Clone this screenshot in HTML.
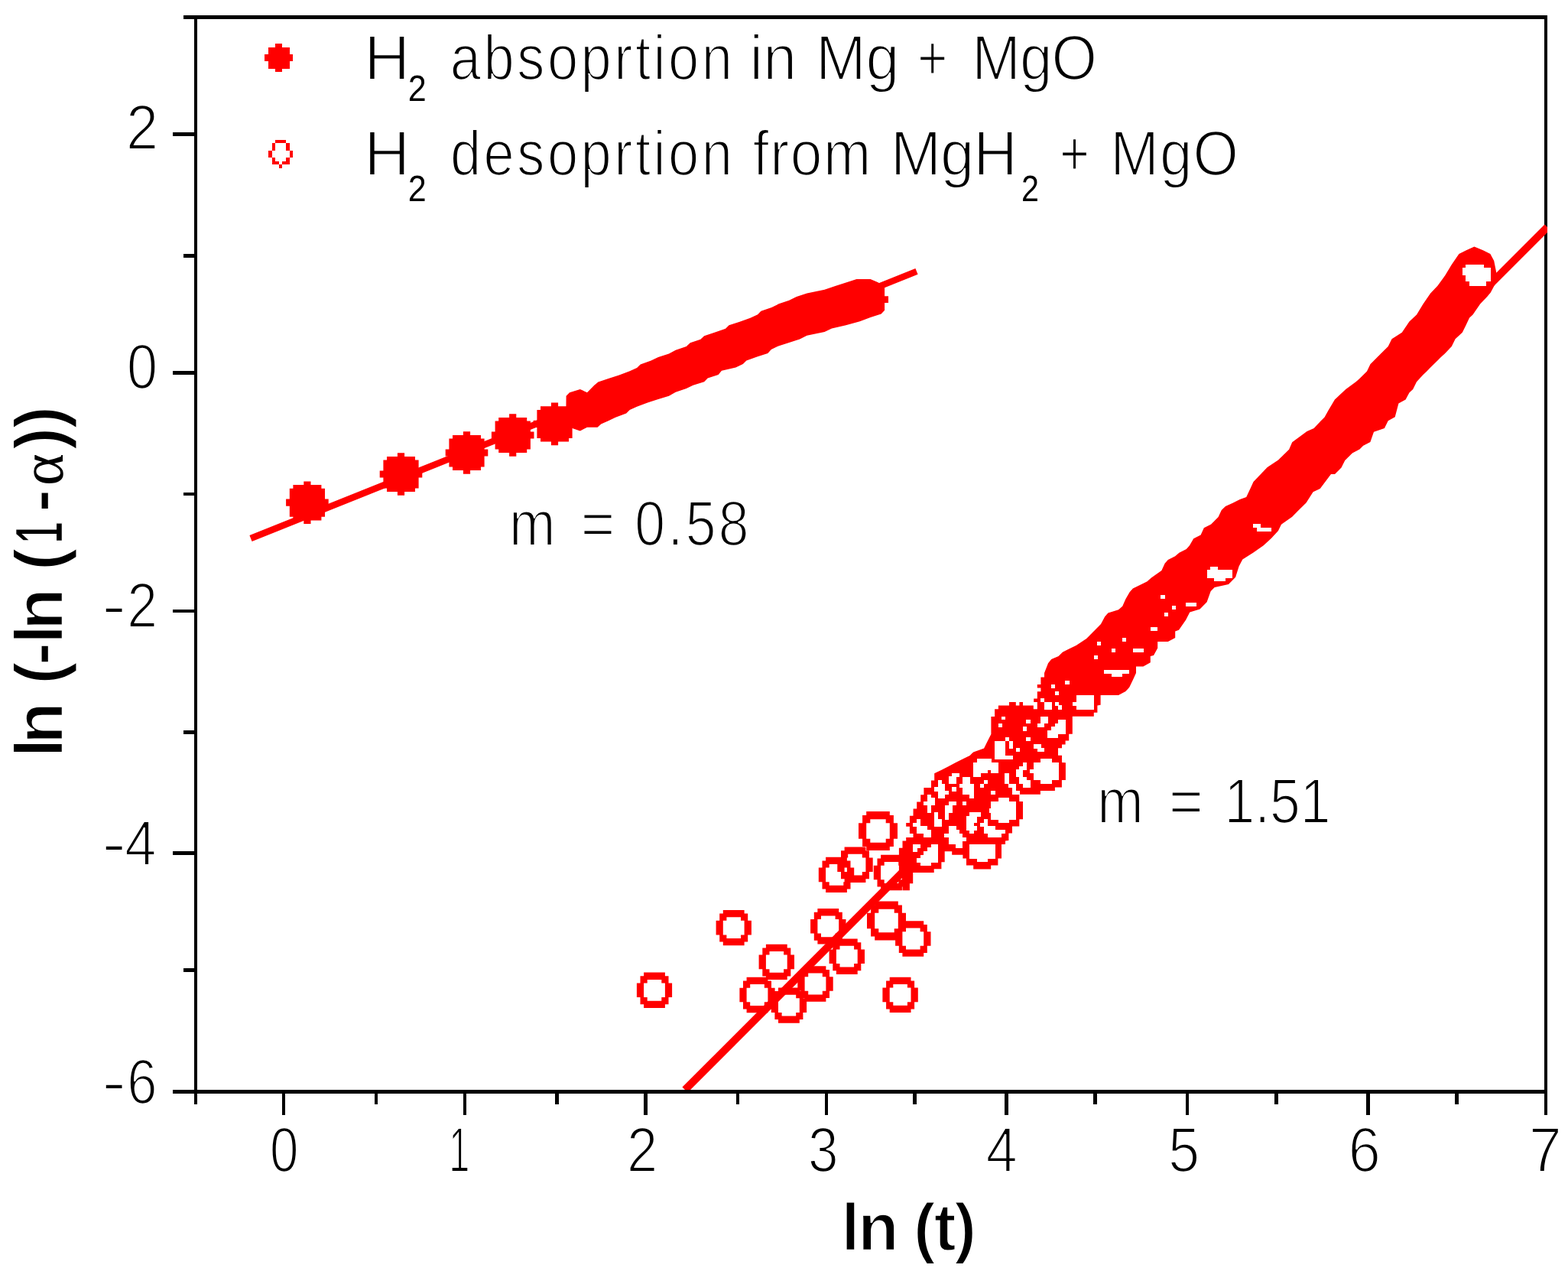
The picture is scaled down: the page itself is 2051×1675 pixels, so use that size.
<!DOCTYPE html>
<html><head><meta charset="utf-8"><title>ln(-ln(1-alpha)) vs ln(t)</title>
<style>html,body{margin:0;padding:0;background:#fff;overflow:hidden}svg{display:block}</style>
</head><body>
<svg width="2051" height="1675" viewBox="0 0 2051 1675" shape-rendering="crispEdges">
<rect width="2051" height="1675" fill="#fff"/>
<g fill="#000"><rect x="240.0" y="20.0" width="1784.0" height="4.5"/><rect x="2019.5" y="20.0" width="4.5" height="1410.0"/><rect x="253.5" y="20.0" width="4.5" height="1424.0"/><rect x="226.0" y="1425.0" width="1798.0" height="5.0"/><rect x="226.0" y="173.4" width="28.0" height="4.5"/><rect x="226.0" y="485.1" width="28.0" height="4.5"/><rect x="226.0" y="796.5" width="28.0" height="4.5"/><rect x="226.0" y="1113.2" width="28.0" height="4.5"/><rect x="240.0" y="332.1" width="14.0" height="4.5"/><rect x="240.0" y="643.8" width="14.0" height="4.5"/><rect x="240.0" y="955.1" width="14.0" height="4.5"/><rect x="240.0" y="1266.2" width="14.0" height="4.5"/><rect x="368.9" y="1430.0" width="4.5" height="27.5"/><rect x="605.9" y="1430.0" width="4.5" height="27.5"/><rect x="842.4" y="1430.0" width="4.5" height="27.5"/><rect x="1078.5" y="1430.0" width="4.5" height="27.5"/><rect x="1314.2" y="1430.0" width="4.5" height="27.5"/><rect x="1550.8" y="1430.0" width="4.5" height="27.5"/><rect x="1787.2" y="1430.0" width="4.5" height="27.5"/><rect x="2019.5" y="1430.0" width="4.5" height="27.5"/><rect x="489.6" y="1430.0" width="4.5" height="14.0"/><rect x="726.1" y="1430.0" width="4.5" height="14.0"/><rect x="962.6" y="1430.0" width="4.5" height="14.0"/><rect x="1194.2" y="1430.0" width="4.5" height="14.0"/><rect x="1430.2" y="1430.0" width="4.5" height="14.0"/><rect x="1667.2" y="1430.0" width="4.5" height="14.0"/><rect x="1903.2" y="1430.0" width="4.5" height="14.0"/></g>
<defs><clipPath id="pa"><rect x="0" y="0" width="2024" height="1425"/></clipPath></defs>
<g shape-rendering="auto" clip-path="url(#pa)"><line x1="328" y1="704" x2="1199" y2="354.9" stroke="#ff0000" stroke-width="8.5"/><path d="M397.3 629.4 L406.5 629.4 L406.5 634.1 L420.4 634.1 L420.4 638.7 L425.0 638.7 L425.0 652.6 L429.7 652.6 L429.7 661.8 L425.0 661.8 L425.0 675.7 L420.4 675.7 L420.4 680.4 L406.5 680.4 L406.5 685.0 L397.3 685.0 L397.3 680.4 L383.4 680.4 L383.4 675.7 L378.8 675.7 L378.8 661.8 L374.1 661.8 L374.1 652.6 L378.8 652.6 L378.8 638.7 L383.4 638.7 L383.4 634.1 L397.3 634.1ZM519.9 592.2 L529.1 592.2 L529.1 596.9 L543.0 596.9 L543.0 601.5 L547.6 601.5 L547.6 615.4 L552.3 615.4 L552.3 624.6 L547.6 624.6 L547.6 638.5 L543.0 638.5 L543.0 643.1 L529.1 643.1 L529.1 647.8 L519.9 647.8 L519.9 643.1 L506.0 643.1 L506.0 638.5 L501.4 638.5 L501.4 624.6 L496.7 624.6 L496.7 615.4 L501.4 615.4 L501.4 601.5 L506.0 601.5 L506.0 596.9 L519.9 596.9ZM605.9 564.2 L615.1 564.2 L615.1 568.9 L629.0 568.9 L629.0 573.5 L633.6 573.5 L633.6 587.4 L638.3 587.4 L638.3 596.6 L633.6 596.6 L633.6 610.5 L629.0 610.5 L629.0 615.1 L615.1 615.1 L615.1 619.8 L605.9 619.8 L605.9 615.1 L592.0 615.1 L592.0 610.5 L587.4 610.5 L587.4 596.6 L582.7 596.6 L582.7 587.4 L587.4 587.4 L587.4 573.5 L592.0 573.5 L592.0 568.9 L605.9 568.9ZM666.1 541.2 L675.3 541.2 L675.3 545.9 L689.2 545.9 L689.2 550.5 L693.9 550.5 L693.9 564.4 L698.5 564.4 L698.5 573.6 L693.9 573.6 L693.9 587.5 L689.2 587.5 L689.2 592.1 L675.3 592.1 L675.3 596.8 L666.1 596.8 L666.1 592.1 L652.2 592.1 L652.2 587.5 L647.6 587.5 L647.6 573.6 L642.9 573.6 L642.9 564.4 L647.6 564.4 L647.6 550.5 L652.2 550.5 L652.2 545.9 L666.1 545.9ZM720.9 526.6 L730.1 526.6 L730.1 531.2 L744.0 531.2 L744.0 535.9 L748.6 535.9 L748.6 549.8 L753.3 549.8 L753.3 559.0 L748.6 559.0 L748.6 572.9 L744.0 572.9 L744.0 577.5 L730.1 577.5 L730.1 582.2 L720.9 582.2 L720.9 577.5 L707.0 577.5 L707.0 572.9 L702.4 572.9 L702.4 559.0 L697.7 559.0 L697.7 549.8 L702.4 549.8 L702.4 535.9 L707.0 535.9 L707.0 531.2 L720.9 531.2Z" fill="#ff0000"/><polygon points="740.6,517.8 745.0,513.2 758.8,508.9 768.0,513.2 777.3,503.8 782.4,499.5 795.8,495.0 809.8,490.4 823.7,485.3 833.1,481.0 837.7,476.4 851.6,471.6 861.0,467.0 875.0,462.5 883.8,457.7 897.8,453.1 902.8,448.3 916.3,443.7 921.1,439.2 935.3,434.6 949.0,429.8 953.5,425.2 967.5,420.7 981.4,415.8 991.1,411.3 995.4,406.7 1009.3,401.9 1018.7,397.3 1032.2,392.8 1041.8,388.0 1055.5,383.4 1078.5,378.8 1092.5,374.0 1106.5,369.4 1120.4,364.9 1138.6,364.9 1148.0,369.0 1157.1,374.0 1157.1,387.2 1162.0,387.2 1162.0,396.0 1157.1,396.0 1157.1,405.7 1152.6,410.5 1138.6,415.1 1124.7,420.2 1106.5,425.2 1088.0,429.5 1078.5,434.1 1055.5,438.7 1046.1,443.5 1032.2,448.0 1018.2,452.4 1008.8,456.9 1004.3,462.0 990.3,466.6 976.4,471.4 971.8,475.9 962.4,480.5 943.9,484.8 939.6,489.9 925.7,494.4 921.1,499.3 906.6,503.8 897.8,508.1 883.8,512.7 875.0,517.8 861.0,522.0 847.1,526.6 833.1,531.7 823.7,536.0 819.2,540.6 805.2,545.7 795.8,550.2 786.2,554.5 781.6,558.8 768.0,558.8 758.8,563.4 745.0,558.8 740.0,573.5" fill="#ff0000"/><line x1="896" y1="1425" x2="2024" y2="297" stroke="#ff0000" stroke-width="10"/><path d="M842.1 1271.6 L869.9 1271.6 L869.9 1276.3 L874.5 1276.3 L874.5 1285.5 L879.1 1285.5 L879.1 1304.1 L874.5 1304.1 L874.5 1313.3 L869.9 1313.3 L869.9 1318.0 L842.1 1318.0 L842.1 1313.3 L837.5 1313.3 L837.5 1304.1 L832.9 1304.1 L832.9 1285.5 L837.5 1285.5 L837.5 1276.3 L842.1 1276.3ZM846.7 1285.5 L842.1 1285.5 L842.1 1304.1 L846.7 1304.1 L846.7 1308.7 L865.3 1308.7 L865.3 1304.1 L869.9 1304.1 L869.9 1285.5 L865.3 1285.5 L865.3 1280.9 L846.7 1280.9ZM945.8 1189.9 L973.6 1189.9 L973.6 1194.6 L978.2 1194.6 L978.2 1203.8 L982.9 1203.8 L982.9 1222.4 L978.2 1222.4 L978.2 1231.6 L973.6 1231.6 L973.6 1236.2 L945.8 1236.2 L945.8 1231.6 L941.2 1231.6 L941.2 1222.4 L936.6 1222.4 L936.6 1203.8 L941.2 1203.8 L941.2 1194.6 L945.8 1194.6ZM950.4 1203.8 L945.8 1203.8 L945.8 1222.4 L950.4 1222.4 L950.4 1227.0 L969.0 1227.0 L969.0 1222.4 L973.6 1222.4 L973.6 1203.8 L969.0 1203.8 L969.0 1199.2 L950.4 1199.2ZM1001.9 1234.8 L1029.7 1234.8 L1029.7 1239.4 L1034.3 1239.4 L1034.3 1248.6 L1039.0 1248.6 L1039.0 1267.2 L1034.3 1267.2 L1034.3 1276.4 L1029.7 1276.4 L1029.7 1281.1 L1001.9 1281.1 L1001.9 1276.4 L997.3 1276.4 L997.3 1267.2 L992.6 1267.2 L992.6 1248.6 L997.3 1248.6 L997.3 1239.4 L1001.9 1239.4ZM1006.5 1248.6 L1001.9 1248.6 L1001.9 1267.2 L1006.5 1267.2 L1006.5 1271.8 L1025.1 1271.8 L1025.1 1267.2 L1029.7 1267.2 L1029.7 1248.6 L1025.1 1248.6 L1025.1 1244.0 L1006.5 1244.0ZM976.6 1277.8 L1004.4 1277.8 L1004.4 1282.5 L1009.0 1282.5 L1009.0 1291.7 L1013.6 1291.7 L1013.6 1310.3 L1009.0 1310.3 L1009.0 1319.5 L1004.4 1319.5 L1004.4 1324.2 L976.6 1324.2 L976.6 1319.5 L972.0 1319.5 L972.0 1310.3 L967.4 1310.3 L967.4 1291.7 L972.0 1291.7 L972.0 1282.5 L976.6 1282.5ZM981.2 1291.7 L976.6 1291.7 L976.6 1310.3 L981.2 1310.3 L981.2 1314.9 L999.8 1314.9 L999.8 1310.3 L1004.4 1310.3 L1004.4 1291.7 L999.8 1291.7 L999.8 1287.1 L981.2 1287.1ZM1018.0 1291.4 L1045.8 1291.4 L1045.8 1296.1 L1050.4 1296.1 L1050.4 1305.3 L1055.1 1305.3 L1055.1 1323.9 L1050.4 1323.9 L1050.4 1333.1 L1045.8 1333.1 L1045.8 1337.8 L1018.0 1337.8 L1018.0 1333.1 L1013.4 1333.1 L1013.4 1323.9 L1008.8 1323.9 L1008.8 1305.3 L1013.4 1305.3 L1013.4 1296.1 L1018.0 1296.1ZM1022.6 1305.3 L1018.0 1305.3 L1018.0 1323.9 L1022.6 1323.9 L1022.6 1328.5 L1041.2 1328.5 L1041.2 1323.9 L1045.8 1323.9 L1045.8 1305.3 L1041.2 1305.3 L1041.2 1300.7 L1022.6 1300.7ZM1052.6 1263.3 L1080.4 1263.3 L1080.4 1268.0 L1085.0 1268.0 L1085.0 1277.2 L1089.7 1277.2 L1089.7 1295.8 L1085.0 1295.8 L1085.0 1305.0 L1080.4 1305.0 L1080.4 1309.7 L1052.6 1309.7 L1052.6 1305.0 L1048.0 1305.0 L1048.0 1295.8 L1043.3 1295.8 L1043.3 1277.2 L1048.0 1277.2 L1048.0 1268.0 L1052.6 1268.0ZM1057.2 1277.2 L1052.6 1277.2 L1052.6 1295.8 L1057.2 1295.8 L1057.2 1300.4 L1075.8 1300.4 L1075.8 1295.8 L1080.4 1295.8 L1080.4 1277.2 L1075.8 1277.2 L1075.8 1272.6 L1057.2 1272.6ZM1069.4 1188.1 L1097.2 1188.1 L1097.2 1192.8 L1101.8 1192.8 L1101.8 1202.0 L1106.5 1202.0 L1106.5 1220.6 L1101.8 1220.6 L1101.8 1229.8 L1097.2 1229.8 L1097.2 1234.5 L1069.4 1234.5 L1069.4 1229.8 L1064.8 1229.8 L1064.8 1220.6 L1060.1 1220.6 L1060.1 1202.0 L1064.8 1202.0 L1064.8 1192.8 L1069.4 1192.8ZM1074.0 1202.0 L1069.4 1202.0 L1069.4 1220.6 L1074.0 1220.6 L1074.0 1225.2 L1092.6 1225.2 L1092.6 1220.6 L1097.2 1220.6 L1097.2 1202.0 L1092.6 1202.0 L1092.6 1197.4 L1074.0 1197.4ZM1093.9 1227.5 L1121.7 1227.5 L1121.7 1232.2 L1126.3 1232.2 L1126.3 1241.4 L1131.0 1241.4 L1131.0 1260.0 L1126.3 1260.0 L1126.3 1269.2 L1121.7 1269.2 L1121.7 1273.9 L1093.9 1273.9 L1093.9 1269.2 L1089.3 1269.2 L1089.3 1260.0 L1084.6 1260.0 L1084.6 1241.4 L1089.3 1241.4 L1089.3 1232.2 L1093.9 1232.2ZM1098.5 1241.4 L1093.9 1241.4 L1093.9 1260.0 L1098.5 1260.0 L1098.5 1264.6 L1117.1 1264.6 L1117.1 1260.0 L1121.7 1260.0 L1121.7 1241.4 L1117.1 1241.4 L1117.1 1236.8 L1098.5 1236.8ZM1180.4 1204.3 L1208.2 1204.3 L1208.2 1209.0 L1212.8 1209.0 L1212.8 1218.2 L1217.5 1218.2 L1217.5 1236.8 L1212.8 1236.8 L1212.8 1246.0 L1208.2 1246.0 L1208.2 1250.7 L1180.4 1250.7 L1180.4 1246.0 L1175.8 1246.0 L1175.8 1236.8 L1171.1 1236.8 L1171.1 1218.2 L1175.8 1218.2 L1175.8 1209.0 L1180.4 1209.0ZM1185.0 1218.2 L1180.4 1218.2 L1180.4 1236.8 L1185.0 1236.8 L1185.0 1241.4 L1203.6 1241.4 L1203.6 1236.8 L1208.2 1236.8 L1208.2 1218.2 L1203.6 1218.2 L1203.6 1213.6 L1185.0 1213.6ZM1163.7 1277.8 L1191.5 1277.8 L1191.5 1282.4 L1196.1 1282.4 L1196.1 1291.6 L1200.8 1291.6 L1200.8 1310.2 L1196.1 1310.2 L1196.1 1319.4 L1191.5 1319.4 L1191.5 1324.1 L1163.7 1324.1 L1163.7 1319.4 L1159.1 1319.4 L1159.1 1310.2 L1154.4 1310.2 L1154.4 1291.6 L1159.1 1291.6 L1159.1 1282.4 L1163.7 1282.4ZM1168.3 1291.6 L1163.7 1291.6 L1163.7 1310.2 L1168.3 1310.2 L1168.3 1314.8 L1186.9 1314.8 L1186.9 1310.2 L1191.5 1310.2 L1191.5 1291.6 L1186.9 1291.6 L1186.9 1287.0 L1168.3 1287.0ZM1080.1 1120.8 L1107.9 1120.8 L1107.9 1125.4 L1112.5 1125.4 L1112.5 1134.6 L1117.2 1134.6 L1117.2 1153.2 L1112.5 1153.2 L1112.5 1162.4 L1107.9 1162.4 L1107.9 1167.1 L1080.1 1167.1 L1080.1 1162.4 L1075.5 1162.4 L1075.5 1153.2 L1070.8 1153.2 L1070.8 1134.6 L1075.5 1134.6 L1075.5 1125.4 L1080.1 1125.4ZM1084.7 1134.6 L1080.1 1134.6 L1080.1 1153.2 L1084.7 1153.2 L1084.7 1157.8 L1103.3 1157.8 L1103.3 1153.2 L1107.9 1153.2 L1107.9 1134.6 L1103.3 1134.6 L1103.3 1130.0 L1084.7 1130.0ZM1104.6 1107.5 L1132.4 1107.5 L1132.4 1112.2 L1137.0 1112.2 L1137.0 1121.4 L1141.7 1121.4 L1141.7 1140.0 L1137.0 1140.0 L1137.0 1149.2 L1132.4 1149.2 L1132.4 1153.9 L1104.6 1153.9 L1104.6 1149.2 L1100.0 1149.2 L1100.0 1140.0 L1095.3 1140.0 L1095.3 1121.4 L1100.0 1121.4 L1100.0 1112.2 L1104.6 1112.2ZM1109.2 1121.4 L1104.6 1121.4 L1104.6 1140.0 L1109.2 1140.0 L1109.2 1144.6 L1127.8 1144.6 L1127.8 1140.0 L1132.4 1140.0 L1132.4 1121.4 L1127.8 1121.4 L1127.8 1116.8 L1109.2 1116.8ZM1152.1 1117.8 L1179.9 1117.8 L1179.9 1122.5 L1184.5 1122.5 L1184.5 1131.7 L1189.2 1131.7 L1189.2 1150.3 L1184.5 1150.3 L1184.5 1159.5 L1179.9 1159.5 L1179.9 1164.2 L1152.1 1164.2 L1152.1 1159.5 L1147.5 1159.5 L1147.5 1150.3 L1142.8 1150.3 L1142.8 1131.7 L1147.5 1131.7 L1147.5 1122.5 L1152.1 1122.5ZM1156.7 1131.7 L1152.1 1131.7 L1152.1 1150.3 L1156.7 1150.3 L1156.7 1154.9 L1175.3 1154.9 L1175.3 1150.3 L1179.9 1150.3 L1179.9 1131.7 L1175.3 1131.7 L1175.3 1127.1 L1156.7 1127.1ZM1133.2 1061.0 L1163.8 1061.0 L1163.8 1066.1 L1168.9 1066.1 L1168.9 1076.3 L1174.0 1076.3 L1174.0 1096.7 L1168.9 1096.7 L1168.9 1106.9 L1163.8 1106.9 L1163.8 1112.0 L1133.2 1112.0 L1133.2 1106.9 L1128.1 1106.9 L1128.1 1096.7 L1123.0 1096.7 L1123.0 1076.3 L1128.1 1076.3 L1128.1 1066.1 L1133.2 1066.1ZM1138.3 1076.3 L1133.2 1076.3 L1133.2 1096.7 L1138.3 1096.7 L1138.3 1101.8 L1158.7 1101.8 L1158.7 1096.7 L1163.8 1096.7 L1163.8 1076.3 L1158.7 1076.3 L1158.7 1071.2 L1138.3 1071.2ZM1144.2 1178.5 L1174.8 1178.5 L1174.8 1183.6 L1179.9 1183.6 L1179.9 1193.8 L1185.0 1193.8 L1185.0 1214.2 L1179.9 1214.2 L1179.9 1224.4 L1174.8 1224.4 L1174.8 1229.5 L1144.2 1229.5 L1144.2 1224.4 L1139.1 1224.4 L1139.1 1214.2 L1134.0 1214.2 L1134.0 1193.8 L1139.1 1193.8 L1139.1 1183.6 L1144.2 1183.6ZM1149.3 1193.8 L1144.2 1193.8 L1144.2 1214.2 L1149.3 1214.2 L1149.3 1219.3 L1169.7 1219.3 L1169.7 1214.2 L1174.8 1214.2 L1174.8 1193.8 L1169.7 1193.8 L1169.7 1188.7 L1149.3 1188.7Z" fill="#ff0000" fill-rule="nonzero"/><polygon points="1175.9,1118.0 1175.9,1108.7 1180.5,1108.7 1180.5,1099.4 1185.2,1099.4 1185.2,1095.1 1194.5,1095.1 1194.5,1090.1 1189.9,1090.1 1189.9,1080.8 1185.2,1080.8 1185.2,1076.1 1189.9,1076.1 1189.9,1066.8 1194.5,1066.8 1194.6,1057.6 1199.2,1057.6 1199.2,1048.4 1204.2,1048.4 1204.2,1039.3 1208.4,1039.3 1208.4,1030.1 1218.0,1030.1 1218.0,1020.4 1222.2,1020.4 1222.2,1011.3 1231.6,1006.7 1240.9,1002.1 1250.2,997.0 1259.2,992.4 1268.5,988.1 1273.1,983.4 1287.1,978.4 1291.8,969.1 1296.4,960.1 1296.4,936.9 1301.1,936.9 1301.1,927.2 1305.9,927.2 1305.9,922.6 1320.0,922.6 1320.0,918.0 1328.8,918.0 1328.8,922.6 1333.4,922.6 1333.4,918.0 1338.0,918.0 1338.0,922.6 1351.8,922.6 1351.8,927.2 1356.8,927.2 1356.8,918.0 1352.2,918.0 1352.2,913.4 1356.8,913.4 1356.8,904.2 1361.4,904.2 1361.4,899.6 1356.8,899.6 1356.8,895.0 1361.4,895.0 1361.4,885.4 1366.0,885.4 1366.0,880.0 1371.0,867.3 1375.2,862.1 1384.6,857.9 1389.9,852.7 1398.2,848.5 1407.6,843.9 1421.2,835.0 1426.4,829.7 1435.8,820.3 1440.0,816.1 1445.2,806.3 1449.4,801.5 1463.0,797.3 1468.2,792.7 1472.4,783.3 1477.6,774.3 1481.8,769.5 1500.6,760.3 1505.9,755.5 1519.4,746.1 1523.6,736.7 1527.8,732.1 1537.2,727.3 1542.4,722.7 1551.8,717.9 1556.0,713.3 1561.2,704.3 1570.6,699.5 1574.8,690.3 1584.2,685.5 1593.6,676.1 1597.8,667.1 1603.0,662.1 1612.4,657.7 1621.8,653.1 1630.2,650.0 1635.4,639.1 1639.5,630.0 1657.7,611.1 1672.0,601.6 1686.1,587.8 1690.2,578.3 1709.5,564.1 1718.6,560.0 1727.8,550.3 1732.6,545.6 1737.3,537.0 1745.9,522.6 1760.3,508.9 1773.6,499.3 1778.4,494.9 1788.0,485.4 1792.4,476.2 1806.1,462.4 1815.7,452.9 1820.5,443.3 1833.8,434.7 1843.4,420.4 1853.0,411.4 1861.5,397.5 1871.1,383.5 1880.6,373.6 1890.2,360.2 1898.8,345.9 1908.4,332.1 1917.9,327.3 1928.4,322.5 1939.9,327.3 1949.4,332.1 1954.2,341.1 1956.0,350.0 1959.0,365.0 1954.6,373.6 1949.8,382.6 1945.2,387.9 1936.1,397.5 1926.5,411.4 1922.1,415.6 1917.5,425.2 1912.8,434.7 1903.6,443.3 1898.8,452.9 1889.8,462.4 1885.0,466.8 1880.3,471.6 1871.1,480.6 1866.3,485.4 1861.5,490.1 1853.0,499.3 1848.2,508.9 1843.4,513.6 1838.6,522.6 1829.4,527.4 1824.7,545.2 1815.7,550.3 1810.9,559.9 1797.0,564.7 1792.4,578.0 1783.2,582.8 1778.4,587.6 1768.9,592.4 1759.3,602.0 1754.5,611.5 1746.0,620.0 1741.0,619.9 1726.7,639.1 1717.6,643.2 1708.5,657.4 1699.3,666.5 1690.2,675.7 1676.0,685.8 1672.0,694.0 1662.8,704.1 1652.7,713.2 1639.5,722.4 1625.3,731.5 1620.6,740.6 1616.1,754.8 1607.0,764.0 1588.7,768.0 1583.7,773.1 1578.6,787.3 1569.5,796.4 1556.3,800.5 1551.2,810.6 1542.0,823.8 1537.2,825.5 1537.2,833.9 1527.8,839.1 1514.2,839.1 1514.2,847.5 1509.0,856.9 1504.8,857.9 1504.8,866.3 1495.4,871.5 1486.0,871.5 1486.0,879.9 1481.8,889.3 1477.2,898.7 1472.4,903.9 1463.0,909.1 1439.6,909.1 1439.6,921.7 1435.4,922.6 1435.4,931.8 1430.8,931.8 1430.8,936.8 1402.8,936.8 1402.8,959.8 1398.2,959.8 1398.2,968.6 1393.6,968.6 1393.6,973.6 1389.0,973.6 1389.0,978.2 1384.0,978.2 1384.0,987.8 1389.0,987.8 1389.0,997.0 1393.9,997.2 1393.9,1020.1 1388.9,1020.1 1388.9,1029.4 1379.9,1029.4 1379.9,1034.1 1360.9,1034.1 1360.9,1038.7 1333.3,1038.7 1333.3,1048.0 1338.0,1048.0 1338.0,1071.3 1333.3,1071.3 1333.3,1080.6 1324.0,1080.6 1324.0,1089.6 1319.4,1089.6 1319.4,1098.9 1315.0,1099.4 1315.0,1104.0 1310.0,1104.0 1310.0,1122.4 1305.4,1122.4 1305.4,1131.6 1296.2,1131.6 1296.2,1136.6 1273.2,1136.6 1273.2,1131.6 1264.0,1131.6 1264.0,1122.4 1259.4,1122.4 1259.4,1117.8 1245.2,1117.8 1245.2,1113.2 1235.7,1113.2 1235.7,1127.3 1231.4,1127.3 1231.4,1136.3 1221.7,1136.3 1221.7,1141.0 1194.2,1141.0 1194.2,1155.3 1189.9,1155.3 1189.9,1164.2 1180.5,1164.2 1180.5,1150.0 1175.9,1140.0" fill="#ff0000"/><path d="M1277.5 992.1H1296.7V997.3H1277.5ZM1272.8 996.7H1306.0V1006.6H1272.8ZM1272.8 1006.0H1292.1V1011.3H1272.8ZM1296.1 1006.0H1306.0V1011.3H1296.1ZM1272.8 1010.7H1282.7V1015.9H1272.8ZM1300.8 968.8H1315.3V988.1H1300.8ZM1300.8 987.5H1324.5V992.7H1300.8ZM1319.7 968.7H1324.5V978.5H1319.7ZM1245.3 1010.7H1255.2V1015.9H1245.3ZM1240.6 1015.3H1250.5V1025.3H1240.6ZM1259.1 1015.6H1268.9V1025.3H1259.1ZM1254.5 1024.7H1273.5V1029.9H1254.5ZM1259.1 1029.3H1273.5V1039.1H1259.1ZM1268.3 1038.5H1273.5V1043.7H1268.3ZM1226.5 1020.1H1231.7V1025.3H1226.5ZM1226.5 1024.7H1236.3V1029.9H1226.5ZM1221.9 1029.3H1236.3V1034.5H1221.9ZM1226.5 1033.9H1240.9V1039.1H1226.5ZM1226.5 1038.5H1236.3V1043.7H1226.5ZM1268.3 1103.7H1301.5V1122.7H1268.3ZM1277.5 1122.1H1292.3V1127.3H1277.5ZM1194.2 1103.7H1204.1V1109.0H1194.2ZM1194.2 1108.4H1199.5V1113.7H1194.2ZM1217.5 1103.7H1227.0V1109.0H1217.5ZM1212.8 1108.4H1227.0V1113.7H1212.8ZM1207.8 1113.1H1227.0V1118.3H1207.8ZM1203.5 1117.7H1227.0V1123.0H1203.5ZM1198.9 1122.4H1227.0V1127.6H1198.9ZM1203.5 1127.0H1217.7V1131.9H1203.5ZM1240.7 1080.3H1250.5V1085.5H1240.7ZM1240.7 1084.9H1254.7V1090.1H1240.7ZM1235.7 1089.5H1259.3V1095.1H1235.7ZM1240.7 1094.5H1264.3V1099.7H1240.7ZM1240.7 1099.1H1259.3V1104.3H1240.7ZM1249.9 1103.7H1259.3V1108.9H1249.9ZM1286.7 1071.1H1292.3V1076.3H1286.7ZM1282.1 1075.7H1292.3V1080.9H1282.1ZM1286.7 1080.3H1301.5V1085.5H1286.7ZM1286.7 1084.9H1315.3V1090.1H1286.7ZM1291.7 1089.5H1310.3V1095.1H1291.7ZM1305.5 1043.4H1319.7V1048.7H1305.5ZM1295.8 1048.1H1329.3V1058.0H1295.8ZM1294.1 1057.4H1329.3V1062.6H1294.1ZM1295.8 1062.0H1329.3V1071.9H1295.8ZM1305.5 1071.3H1319.7V1076.3H1305.5ZM1268.3 1061.9H1283.1V1067.6H1268.3ZM1263.7 1067.0H1278.1V1076.3H1263.7ZM1263.7 1075.7H1273.5V1080.9H1263.7ZM1263.7 1080.3H1278.1V1085.5H1263.7ZM1268.3 1084.9H1273.5V1090.1H1268.3ZM1198.9 1071.1H1204.1V1076.3H1198.9ZM1194.3 1075.7H1204.1V1080.9H1194.3ZM1198.9 1080.3H1213.3V1085.5H1198.9ZM1198.9 1084.9H1217.9V1090.1H1198.9ZM1208.1 1089.5H1217.9V1095.1H1208.1ZM1212.7 1038.5H1217.9V1043.7H1212.7ZM1212.7 1043.1H1222.5V1048.7H1212.7ZM1208.1 1048.1H1222.5V1053.3H1208.1ZM1212.7 1052.7H1217.9V1062.5H1212.7ZM1221.9 1061.9H1227.1V1071.7H1221.9ZM1221.9 1071.1H1231.7V1080.9H1221.9ZM1240.7 1048.1H1250.5V1053.3H1240.7ZM1235.7 1052.7H1245.5V1062.5H1235.7ZM1235.7 1061.9H1240.9V1071.7H1235.7ZM1407.5 908.5H1431.1V927.5H1407.5ZM1402.5 917.7H1408.1V922.9H1402.5ZM1384.1 940.7H1393.9V946.3H1384.1ZM1379.5 945.7H1393.9V950.9H1379.5ZM1374.9 950.3H1393.9V955.5H1374.9ZM1370.3 954.9H1393.9V960.1H1370.3ZM1370.3 959.5H1384.3V964.7H1370.3ZM1361.1 936.5H1370.9V946.3H1361.1ZM1356.5 945.7H1366.3V950.9H1356.5ZM1365.7 917.7H1375.5V927.5H1365.7ZM1351.9 973.3H1361.7V978.5H1351.9ZM1356.5 977.9H1366.3V983.1H1356.5ZM1337.7 996.9H1343.3V1002.1H1337.7ZM1333.0 1001.5H1343.3V1006.8H1333.0ZM1328.7 1006.2H1338.3V1016.1H1328.7ZM1333.0 1015.5H1343.3V1020.4H1333.0ZM1333.0 1019.8H1347.6V1025.4H1333.0ZM1337.7 1024.8H1347.6V1030.1H1337.7ZM1314.4 1010.5H1319.7V1025.4H1314.4ZM1319.1 1024.8H1329.0V1030.1H1319.1ZM1323.7 1029.5H1329.0V1034.4H1323.7ZM1323.7 1033.8H1333.6V1039.0H1323.7ZM1361.0 992.2H1375.6V997.5H1361.0ZM1351.7 996.9H1384.9V1006.4H1351.7ZM1347.0 1005.8H1384.9V1011.4H1347.0ZM1351.7 1010.8H1384.9V1020.4H1351.7ZM1361.0 1019.8H1375.6V1025.4H1361.0ZM1289.7 991.8H1296.7V997.5H1289.7ZM1289.7 996.9H1301.4V1002.1H1289.7ZM1296.1 1001.5H1306.1V1011.1H1296.1ZM1194.3 1103.7H1204.1V1109.3H1194.3ZM1194.3 1108.7H1199.5V1113.5H1194.3ZM1245.3 1029.3H1250.5V1034.5H1245.3ZM1259.1 1048.1H1264.3V1053.3H1259.1ZM1286.7 1020.1H1292.3V1025.3H1286.7ZM1282.1 1024.7H1287.3V1029.9H1282.1ZM1295.9 1033.9H1301.5V1039.1H1295.9ZM1272.9 1011.0H1282.7V1016.1H1272.9ZM1314.7 1011.0H1320.3V1025.3H1314.7ZM1235.4 1089.7H1240.3V1095.0H1235.4ZM1309.7 936.5H1315.3V941.3H1309.7ZM1305.6 945.7H1310.7V950.9H1305.6ZM1337.7 950.3H1343.3V955.5H1337.7ZM1342.3 940.7H1347.5V946.3H1342.3ZM1314.7 964.1H1319.9V969.3H1314.7ZM1342.3 964.1H1347.5V969.3H1342.3ZM1328.5 977.9H1333.7V983.1H1328.5ZM1374.9 894.7H1380.1V899.9H1374.9ZM1393.3 889.7H1398.5V895.3H1393.3ZM1379.5 903.9H1384.7V909.1H1379.5ZM1361.1 913.1H1366.3V918.3H1361.1ZM1379.5 917.7H1384.7V922.9H1379.5ZM1384.1 922.3H1389.3V927.5H1384.1ZM1305.5 989.7H1324.3V992.4H1305.5ZM1583.4 740.9H1593.1V746.0H1583.4ZM1578.7 745.4H1612.0V755.5H1578.7ZM1588.0 754.9H1602.6V760.3H1588.0ZM1639.2 684.9H1648.9V690.2H1639.2ZM1643.8 689.6H1663.1V694.6H1643.8ZM1550.9 787.7H1565.1V792.7H1550.9ZM1504.6 820.1H1514.3V824.7H1504.6ZM1481.5 847.9H1496.1V852.9H1481.5ZM1444.3 875.7H1477.4V880.9H1444.3ZM1453.5 880.3H1468.3V885.4H1453.5ZM1518.4 778.3H1524.1V782.9H1518.4ZM1532.6 792.1H1537.9V796.7H1532.6ZM1523.1 801.2H1528.2V806.3H1523.1ZM1467.7 833.7H1472.8V838.7H1467.7ZM1435.2 838.7H1440.3V843.8H1435.2ZM1453.5 847.9H1459.2V852.9H1453.5ZM1430.5 857.0H1435.8V862.1H1430.5ZM1393.7 890.0H1398.5V894.8H1393.7ZM1916.7 345.6H1941.1V350.4H1916.7ZM1912.5 349.8H1949.7V359.5H1912.5ZM1916.7 358.9H1949.7V368.3H1916.7ZM1921.7 367.7H1944.3V373.9H1921.7Z" fill="#fff" shape-rendering="crispEdges"/></g>
<g><rect x="360.2" y="56.9" width="9.2" height="4.9" fill="#ff0000"/><rect x="351" y="61.8" width="27.8" height="9.5" fill="#ff0000"/><rect x="346" y="71.3" width="37.3" height="9.0" fill="#ff0000"/><rect x="351" y="80.3" width="27.8" height="9.4" fill="#ff0000"/><rect x="360.2" y="89.7" width="9.2" height="4.7" fill="#ff0000"/><rect x="360.2" y="182.7" width="13.8" height="4.5" fill="#ff0000"/><rect x="355.8" y="187.2" width="4.4" height="9.6" fill="#ff0000"/><rect x="374" y="187.2" width="4.8" height="9.6" fill="#ff0000"/><rect x="351" y="196.8" width="4.8" height="9.0" fill="#ff0000"/><rect x="378.8" y="196.8" width="4.5" height="9.0" fill="#ff0000"/><rect x="355.8" y="205.8" width="4.4" height="4.8" fill="#ff0000"/><rect x="374" y="205.8" width="4.8" height="4.8" fill="#ff0000"/><rect x="355.8" y="210.6" width="9.0" height="4.4" fill="#ff0000"/><rect x="369.4" y="210.6" width="9.4" height="4.4" fill="#ff0000"/><rect x="364.8" y="215" width="4.6" height="5.0" fill="#ff0000"/></g>
<g font-family="'Liberation Sans', Arial, sans-serif" fill="#000" text-rendering="geometricPrecision">
<text x="434.6" y="1532.0" font-size="83" font-weight="normal" stroke="#fff" stroke-width="2.2" transform="scale(0.812,1)">0</text>
<text x="1000.5" y="1532.0" font-size="83" font-weight="normal" stroke="#fff" stroke-width="2.2" transform="scale(0.587,1)">1</text>
<text x="942.5" y="1532.0" font-size="83" font-weight="normal" stroke="#fff" stroke-width="2.2" transform="scale(0.87,1)">2</text>
<text x="1234.8" y="1532.0" font-size="83" font-weight="normal" stroke="#fff" stroke-width="2.2" transform="scale(0.856,1)">3</text>
<text x="1454.1" y="1532.0" font-size="83" font-weight="normal" stroke="#fff" stroke-width="2.2" transform="scale(0.887,1)">4</text>
<text x="1728.8" y="1532.0" font-size="83" font-weight="normal" stroke="#fff" stroke-width="2.2" transform="scale(0.884,1)">5</text>
<text x="1940.3" y="1532.0" font-size="83" font-weight="normal" stroke="#fff" stroke-width="2.2" transform="scale(0.909,1)">6</text>
<text x="2162.2" y="1532.0" font-size="83" font-weight="normal" stroke="#fff" stroke-width="2.2" transform="scale(0.925,1)">7</text>
<text x="181.3" y="195.4" font-size="83" font-weight="normal" stroke="#fff" stroke-width="2.2" transform="scale(0.91,1)">2</text>
<text x="191.5" y="507.6" font-size="83" font-weight="normal" stroke="#fff" stroke-width="2.2" transform="scale(0.867,1)">0</text>
<text x="115.9" y="820.0" font-size="83" font-weight="normal" stroke="#fff" stroke-width="2.2" transform="scale(1.15,1)">-</text>
<text x="193.3" y="820.0" font-size="83" font-weight="normal" stroke="#fff" stroke-width="2.2" transform="scale(0.86,1)">2</text>
<text x="115.9" y="1131.2" font-size="83" font-weight="normal" stroke="#fff" stroke-width="2.2" transform="scale(1.15,1)">-</text>
<text x="183.1" y="1131.2" font-size="83" font-weight="normal" stroke="#fff" stroke-width="2.2" transform="scale(0.892,1)">4</text>
<text x="115.9" y="1443.2" font-size="83" font-weight="normal" stroke="#fff" stroke-width="2.2" transform="scale(1.15,1)">-</text>
<text x="195.8" y="1443.2" font-size="83" font-weight="normal" stroke="#fff" stroke-width="2.2" transform="scale(0.849,1)">6</text>
<text x="1100.2 1121.9 1173.0 1194.8 1221.4 1248.1" y="1635.4" font-size="88" font-weight="bold" stroke="#fff" stroke-width="2.4">ln (t)</text>
<text x="476.3" y="103.5" font-size="83" font-weight="normal" stroke="#fff" stroke-width="2.2">H</text>
<text x="595.6" y="132.0" font-size="48" font-weight="normal" transform="scale(0.896,1)">2</text>
<text x="476.3" y="228.8" font-size="83" font-weight="normal" stroke="#fff" stroke-width="2.2">H</text>
<text x="595.6" y="262.6" font-size="48" font-weight="normal" transform="scale(0.896,1)">2</text>
<text x="676.8 727.1 777.3 822.9 873.1 923.4 955.1 982.2 1004.7 1055.0" y="103.5" font-size="83" font-weight="normal" stroke="#fff" stroke-width="2.2" transform="scale(0.87,1)">absoprtion</text>
<text x="1032.1 1050.8" y="103.5" font-size="83" font-weight="normal" stroke="#fff" stroke-width="2.2" transform="scale(0.95,1)">in</text>
<text x="1123.2 1192.0" y="103.5" font-size="83" font-weight="normal" stroke="#fff" stroke-width="2.2" transform="scale(0.95,1)">Mg</text>
<text x="1475.9" y="103.5" font-size="83" font-weight="normal" stroke="#fff" stroke-width="2.2" transform="scale(0.813,1)">+</text>
<text x="1381.9 1450.0 1495.1" y="103.5" font-size="83" font-weight="normal" stroke="#fff" stroke-width="2.2" transform="scale(0.92,1)">MgO</text>
<text x="676.9 727.1 777.3 822.9 873.1 923.4 955.1 982.2 1004.7 1055.0" y="228.8" font-size="83" font-weight="normal" stroke="#fff" stroke-width="2.2" transform="scale(0.87,1)">desoprtion</text>
<text x="1094.2 1119.1 1148.6 1196.7" y="228.8" font-size="83" font-weight="normal" stroke="#fff" stroke-width="2.2" transform="scale(0.9,1)">from</text>
<text x="1213.2 1281.3 1326.4" y="228.8" font-size="83" font-weight="normal" stroke="#fff" stroke-width="2.2" transform="scale(0.96,1)">MgH</text>
<text x="1553.4" y="262.6" font-size="48" font-weight="normal" transform="scale(0.86,1)">2</text>
<text x="1719.5" y="228.8" font-size="83" font-weight="normal" stroke="#fff" stroke-width="2.2" transform="scale(0.806,1)">+</text>
<text x="1578.5 1648.8 1696.2" y="228.8" font-size="83" font-weight="normal" stroke="#fff" stroke-width="2.2" transform="scale(0.92,1)">MgO</text>
<text x="761.1" y="712.8" font-size="83" font-weight="normal" stroke="#fff" stroke-width="2.2" transform="scale(0.875,1)">m</text>
<text x="827.6" y="712.8" font-size="83" font-weight="normal" stroke="#fff" stroke-width="2.2" transform="scale(0.918,1)">=</text>
<text x="965.5 1015.6 1042.6 1092.7" y="712.8" font-size="83" font-weight="normal" stroke="#fff" stroke-width="2.2" transform="scale(0.86,1)">0.58</text>
<text x="1642.3" y="1076.0" font-size="83" font-weight="normal" stroke="#fff" stroke-width="2.2" transform="scale(0.874,1)">m</text>
<text x="1652.9" y="1076.0" font-size="83" font-weight="normal" stroke="#fff" stroke-width="2.2" transform="scale(0.925,1)">=</text>
<text x="1862.3 1908.4 1931.5 1977.7" y="1076.0" font-size="83" font-weight="normal" stroke="#fff" stroke-width="2.2" transform="scale(0.86,1)">1.51</text>
<g transform="translate(82.0,983.0) rotate(-90)"><text y="0" font-size="90" font-weight="bold" stroke="#fff" stroke-width="2.4"><tspan x="-7.6 10.0 40.0 87.9 113.0 141.0 159.0 189.0 236.8">ln (-ln (</tspan><tspan x="272.4" textLength="28.1" lengthAdjust="spacingAndGlyphs">1</tspan><tspan x="313.2">-</tspan><tspan x="348.0" font-family="Liberation Serif" font-weight="normal" font-size="80" stroke-width="0">α</tspan><tspan x="394.4 422.3">))</tspan></text></g>
</g>
</svg>
</body></html>
